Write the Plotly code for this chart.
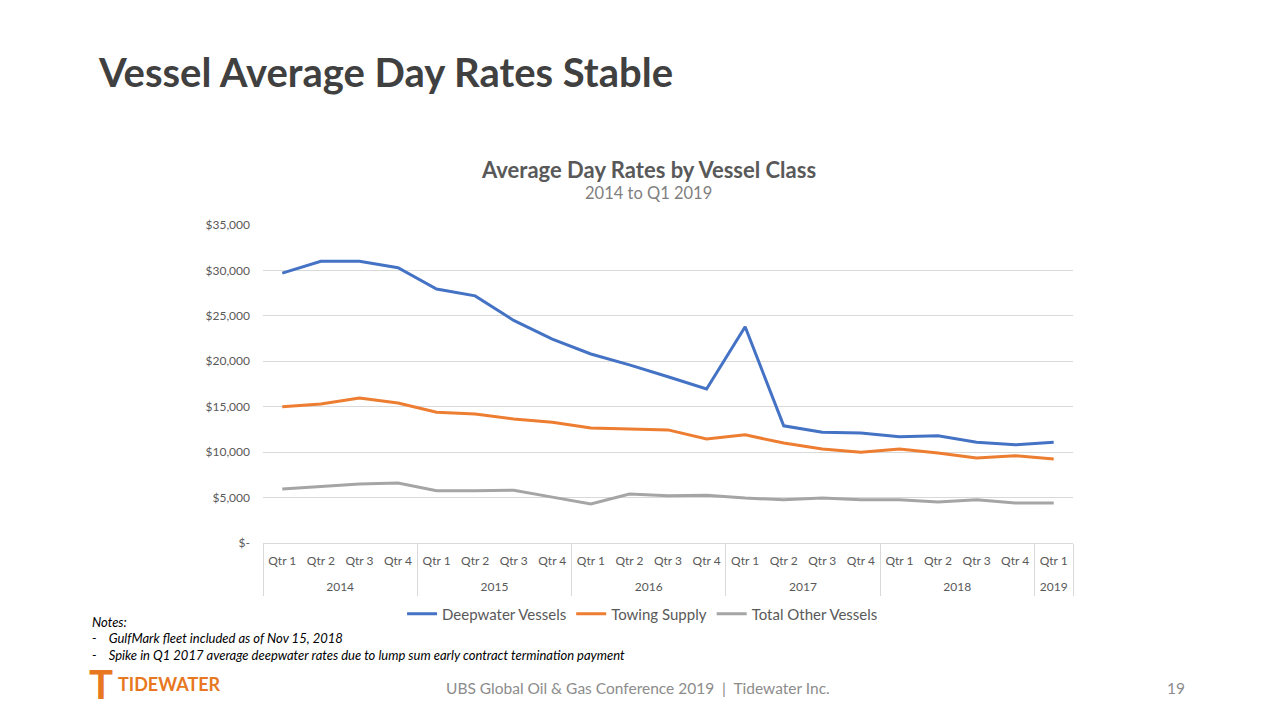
import plotly.graph_objects as go

years = ["2014"]*4 + ["2015"]*4 + ["2016"]*4 + ["2017"]*4 + ["2018"]*4 + ["2019"]
quarters = ["Qtr 1", "Qtr 2", "Qtr 3", "Qtr 4"]*5 + ["Qtr 1"]

deepwater = [29700, 31000, 31000, 30300, 27950, 27200, 24500, 22450,
             20800, 19600, 18300, 16950, 23800, 12900, 12200, 12100,
             11700, 11800, 11100, 10800, 11100]
towing = [15000, 15300, 15950, 15400, 14400, 14200, 13650, 13300,
          12650, 12550, 12450, 11450, 11900, 11000, 10350, 10000,
          10350, 9900, 9350, 9600, 9250]
other = [5950, 6250, 6500, 6600, 5750, 5750, 5800, 5050,
         4300, 5400, 5200, 5250, 4950, 4750, 4950, 4750,
         4750, 4500, 4750, 4400, 4400]

y_tickvals = [0, 5000, 10000, 15000, 20000, 25000, 30000, 35000]
y_ticktext = ["$-", "$5,000", "$10,000", "$15,000", "$20,000", "$25,000", "$30,000", "$35,000"]

series = [("Deepwater Vessels", deepwater, "#4472C4"),
          ("Towing Supply", towing, "#ED7D31"),
          ("Total Other Vessels", other, "#A5A5A5")]

FONT = "Lato"
GRAY = "#595959"
GRID = "#D9D9D9"

idx = list(range(len(quarters)))
xr = [-0.5, len(quarters) - 0.5]

# year groups: centers and boundaries computed from the category lists
groups = []
for i, y in enumerate(years):
    if not groups or groups[-1][0] != y:
        groups.append([y, i, i])
    else:
        groups[-1][2] = i
year_labels = [g[0] for g in groups]
year_centers = [(g[1] + g[2]) / 2 for g in groups]
bounds = [g[1] - 0.5 for g in groups] + [groups[-1][2] + 0.5]

fig = go.Figure()
for name, vals, col in series:
    fig.add_trace(go.Scatter(x=idx, y=vals, name=name, mode="lines",
                             line=dict(color=col, width=3)))
# invisible helpers so overlay axes render
fig.add_trace(go.Scatter(x=xr, y=[None, None], xaxis="x2", showlegend=False, hoverinfo="skip"))
fig.add_trace(go.Scatter(x=xr, y=[None, None], xaxis="x3", showlegend=False, hoverinfo="skip"))

fig.update_layout(
    width=1280, height=720,
    margin=dict(l=263, r=207, t=225, b=177, autoexpand=False),
    paper_bgcolor="white", plot_bgcolor="white",
    font=dict(family=FONT, color=GRAY, size=12),
    showlegend=True,
    legend=dict(orientation="h", xref="container", x=0.502, xanchor="center",
                yref="container", y=1 - 614/720, yanchor="middle",
                font=dict(size=15, color=GRAY), itemwidth=30, tracegroupgap=0),
    xaxis=dict(range=xr, tickvals=idx, ticktext=quarters, showgrid=False, automargin=False,
               showline=True, linecolor=GRID, linewidth=1, ticks="", zeroline=False,
               ticklabelstandoff=7, tickfont=dict(size=12, color=GRAY)),
    xaxis2=dict(range=xr, overlaying="x", anchor="y", side="bottom", tickvals=year_centers,
                ticktext=year_labels, showgrid=False, showline=False, ticks="", automargin=False,
                zeroline=False, ticklabelstandoff=35, tickfont=dict(size=12, color=GRAY)),
    xaxis3=dict(range=xr, overlaying="x", anchor="y", side="bottom", tickvals=bounds,
                showticklabels=False, showgrid=False, showline=False, ticks="outside",
                automargin=False, ticklen=52, tickcolor=GRID, tickwidth=1, zeroline=False),
    yaxis=dict(range=[0, 35000], tickvals=y_tickvals, ticktext=y_ticktext, automargin=False,
               showgrid=True, gridcolor=GRID, gridwidth=1, zeroline=False,
               showline=False, ticks="", ticklabelstandoff=12,
               tickfont=dict(size=12, color=GRAY)),
)

ann = [
    dict(text="<b>Vessel Average Day Rates Stable</b>", x=96, y=72, font=dict(size=40, color="#404040")),
    dict(text="<b>Average Day Rates by Vessel Class</b>", x=648, y=169, xanchor="center", font=dict(size=22, color=GRAY)),
    dict(text="2014 to Q1 2019", x=648, y=193, xanchor="center", font=dict(size=16.5, color="#7F7F7F")),
    dict(text="<i>Notes:</i>", x=90, y=622, font=dict(size=13, color="black")),
    dict(text="<i>-    GulfMark fleet included as of Nov 15, 2018</i>", x=90, y=638, font=dict(size=13, color="black")),
    dict(text="<i>-    Spike in Q1 2017 average deepwater rates due to lump sum early contract termination payment</i>", x=90, y=655, font=dict(size=13, color="black")),
    dict(text="UBS Global Oil &amp; Gas Conference 2019  |  Tidewater Inc.", x=638, y=688, xanchor="center", font=dict(size=15.5, color="#8C8C8C")),
    dict(text="19", x=1176, y=688, xanchor="center", font=dict(size=15.5, color="#8C8C8C")),
    dict(text="<b>T</b>", x=87, y=684, font=dict(size=40, color="#E87722")),
    dict(text="<b>TIDEWATER</b>", x=116, y=684, font=dict(size=18, color="#E87722")),
]
for a in ann:
    fig.add_annotation(xref="x domain", yref="y domain", showarrow=False,
                       align="left", xanchor=a.get("xanchor", "left"), yanchor="middle",
                       text=a["text"], font=dict(family=FONT, **a["font"]),
                       x=(a["x"] - 263) / 810, y=(543 - a["y"]) / 318)

fig.write_html("out.html")
